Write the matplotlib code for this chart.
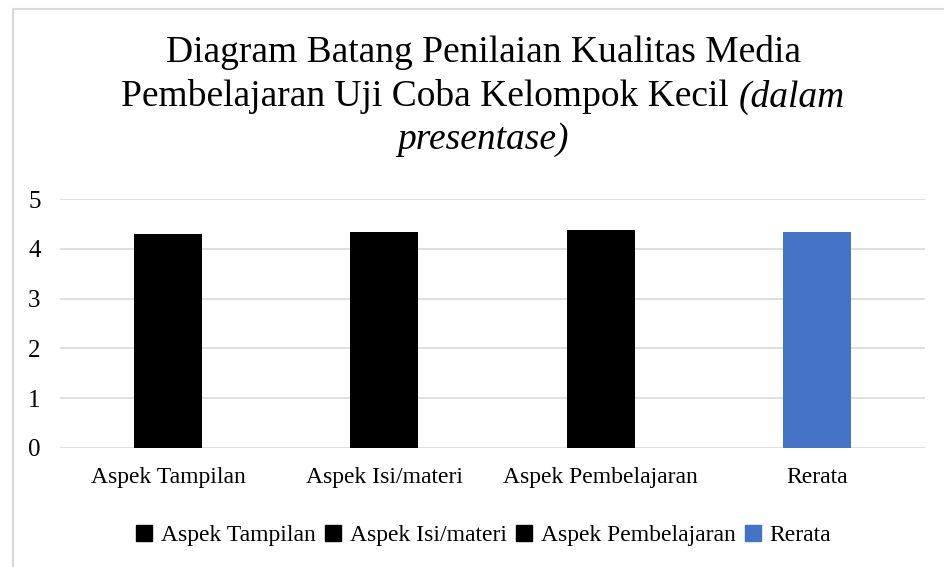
import matplotlib
matplotlib.use("Agg")
import matplotlib.pyplot as plt
from matplotlib.lines import Line2D

plt.rcParams['font.family'] = ['Liberation Serif', 'DejaVu Serif']

categories = ["Aspek Tampilan", "Aspek Isi/materi", "Aspek Pembelajaran", "Rerata"]
values = [4.30, 4.34, 4.38, 4.34]
colors = ["#000000", "#000000", "#000000", "#4472C4"]
yticks = [0, 1, 2, 3, 4, 5]

W, H = 944, 567
fig = plt.figure(figsize=(W / 100, H / 100), dpi=100)
ax = fig.add_axes([60 / W, 1 - 448 / H, (925 - 60) / W, (448 - 199) / H])

x = list(range(len(categories)))
for xi, v, c, lab in zip(x, values, colors, categories):
    ax.bar(xi, v, width=0.315, color=c, label=lab, zorder=3)

ax.set_xlim(-0.5, len(categories) - 0.5)
ax.set_ylim(0, 5)
ax.set_yticks(yticks)
ax.set_xticks(x)
ax.set_xticklabels(categories, fontsize=17)
ax.tick_params(axis='y', labelsize=18, length=0, pad=14)
ax.tick_params(axis='x', length=0, pad=14)
ax.grid(axis='y', color='#d9d9d9', linewidth=1.2, zorder=0)
for s in ax.spines.values():
    s.set_visible(False)

# Legend
handles = [Line2D([0], [0], marker='s', linestyle='None', markersize=11,
                  markerfacecolor=c, markeredgecolor=c) for c in colors]
fig.legend(handles, categories, loc='center', bbox_to_anchor=(483 / W, 1 - 535 / H),
           ncol=4, frameon=False, fontsize=17, handletextpad=0.3, columnspacing=0.35,
           handlelength=0.8)

# Title (mixed normal / italic)
fs = 27
cx = 483 / W
fig.text(cx, 1 - 52 / H, "Diagram Batang Penilaian Kualitas Media", ha='center', va='center', fontsize=fs)
t_a = fig.text(0, 1 - 97 / H, "Pembelajaran Uji Coba Kelompok Kecil ", ha='left', va='center', fontsize=fs)
t_b = fig.text(0, 1 - 97 / H, "(dalam", ha='left', va='center', fontsize=fs, style='italic')
fig.text(cx, 1 - 140 / H, "presentase)", ha='center', va='center', fontsize=fs, style='italic')
r = fig.canvas.get_renderer()
wa = t_a.get_window_extent(r).width
wb = t_b.get_window_extent(r).width
total = wa + wb
x0 = cx * W - total / 2
t_a.set_x(x0 / W)
t_b.set_x((x0 + wa) / W)

# Border lines (top and left)
fig.add_artist(Line2D([12.5 / W, 1], [1 - 8.5 / H, 1 - 8.5 / H], color='#d9d9d9', lw=1.5, transform=fig.transFigure))
fig.add_artist(Line2D([12.5 / W, 12.5 / W], [0, 1 - 8.5 / H], color='#d9d9d9', lw=1.5, transform=fig.transFigure))

fig.savefig("out.png", dpi=100, facecolor='white')
